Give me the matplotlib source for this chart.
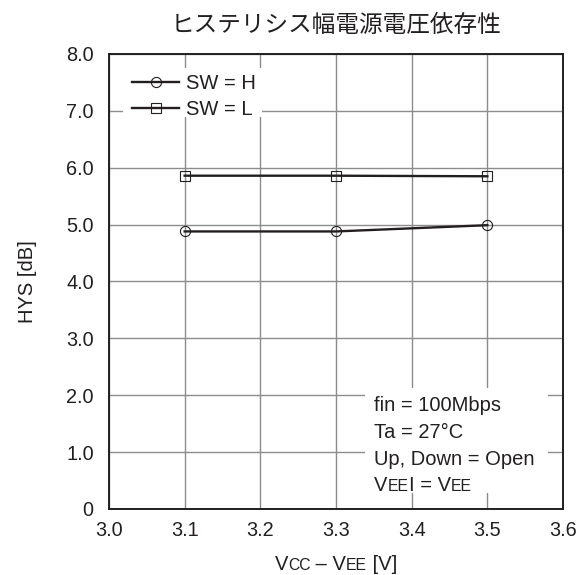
import matplotlib
matplotlib.use("Agg")
import matplotlib.pyplot as plt
from matplotlib.patches import Rectangle
from matplotlib.transforms import IdentityTransform

plt.rcParams["font.family"] = ["Liberation Sans", "Noto Sans CJK JP", "DejaVu Sans"]

# ── Data ──────────────────────────────────────────────────────────────────────
supply_v = [3.1, 3.3, 3.5]
hys_sw_h = [4.88, 4.88, 4.99]
hys_sw_l = [5.86, 5.86, 5.85]

x_ticks = [3.0, 3.1, 3.2, 3.3, 3.4, 3.5, 3.6]
y_ticks = [0, 1, 2, 3, 4, 5, 6, 7, 8]
y_tick_labels = ["0", "1.0", "2.0", "3.0", "4.0", "5.0", "6.0", "7.0", "8.0"]

INK = "#231f20"
GRID = "#8c8c8c"
FS = 14.5       # label / legend / note text
FS_TICK = 14.3
SC = 0.78       # small-caps scale

fig = plt.figure(figsize=(5.87, 5.75), dpi=100)
ax = fig.add_axes([0.1857, 0.1148, 0.7734, 0.7913])

line_kw = dict(color=INK, lw=1.7, ms=7.3, mfc="none", mec=INK, mew=0.8)
ax.plot(supply_v, hys_sw_h, marker="o", label="SW = H", zorder=4, **line_kw)
ax.plot(supply_v, hys_sw_l, marker="s", label="SW = L", zorder=4, **line_kw)

ax.set_xlim(3.0, 3.6)
ax.set_ylim(0, 8)
ax.set_xticks(x_ticks)
ax.set_xticklabels([f"{v:.1f}" for v in x_ticks])
ax.set_yticks(y_ticks)
ax.set_yticklabels(y_tick_labels)
ax.tick_params(length=0, labelsize=FS_TICK, colors=INK)
ax.tick_params(axis="x", pad=9)
ax.tick_params(axis="y", pad=11)
ax.grid(True, color=GRID, lw=1.0)
ax.set_axisbelow(True)
for s in ax.spines.values():
    s.set_color(INK)
    s.set_linewidth(1.4)
    s.set_zorder(5)

ax.set_ylabel("HYS [dB]", fontsize=FS, color=INK)
ax.yaxis.set_label_coords(-0.158, 0.5)
ax.set_title("ヒステリシス幅電源電圧依存性", fontsize=17, color=INK, pad=15.5,
             family=["Noto Sans CJK JP", "DejaVu Sans"])

# white patches that mask the grid behind legend and notes
ax.add_patch(Rectangle((0.031, 0.861), 0.306, 0.108, transform=ax.transAxes,
                       facecolor="white", edgecolor="none", zorder=2))
ax.add_patch(Rectangle((0.564, 0.035), 0.403, 0.231, transform=ax.transAxes,
                       facecolor="white", edgecolor="none", zorder=2))

leg = ax.legend(loc="upper left", bbox_to_anchor=(0.046, 0.960), frameon=False,
                fontsize=FS, handlelength=2.35, handletextpad=0.35,
                labelspacing=0.33, borderpad=0.1, borderaxespad=0.0)
for t in leg.get_texts():
    t.set_color(INK)

renderer = fig.canvas.get_renderer()


def draw_runs(x, y, runs, size, center=False, trans=None):
    """Draw text pieces on one baseline; small pieces act as small caps."""
    trans = trans or ax.transAxes
    x0, y0 = trans.transform((x, y))
    texts = []
    for txt, small in runs:
        t = fig.text(0, y0, txt, transform=IdentityTransform(), color=INK,
                     fontsize=size * SC if small else size,
                     ha="left", va="baseline")
        texts.append(t)
    widths = [t.get_window_extent(renderer).width for t in texts]
    if center:
        x0 -= sum(widths) / 2
    for t, w in zip(texts, widths):
        t.set_x(x0)
        x0 += w
    return texts


# x axis label: VCC – VEE [V]
draw_runs(0.5, -0.134, [("V", False), ("CC", True), (" – V", False),
                        ("EE", True), (" [V]", False)], FS, center=True)

# test conditions
notes = [
    [("fin = 100Mbps", False)],
    [("Ta = 27°C", False)],
    [("Up, Down = Open", False)],
    [("V", False), ("EE", True), ("I = V", False), ("EE", True)],
]
for row, yb in zip(notes, [0.215, 0.156, 0.097, 0.040]):
    draw_runs(0.584, yb, row, FS)

fig.savefig("out.png", dpi=100)
